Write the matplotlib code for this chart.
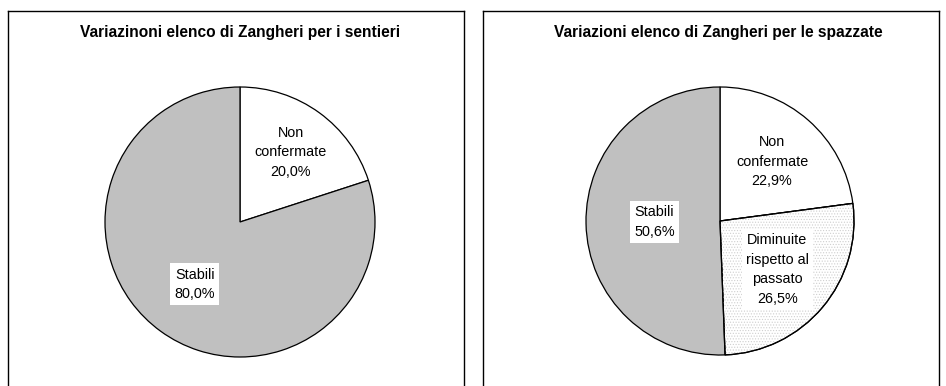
#!/usr/bin/env python3
"""Two pie charts: variations of the Zangheri list for sentieri and spazzate."""

import numpy as np
import matplotlib
matplotlib.use("Agg")
import matplotlib.pyplot as plt
from matplotlib.patches import Wedge

plt.rcParams["font.family"] = ["Liberation Sans", "DejaVu Sans"]
plt.rcParams["hatch.linewidth"] = 0.5

# data
title_sentieri = "Variazinoni elenco di Zangheri per i sentieri"
labels_sentieri = ["Non\nconfermate", "Stabili"]
values_sentieri = [20.0, 80.0]

title_spazzate = "Variazioni elenco di Zangheri per le spazzate"
labels_spazzate = ["Non\nconfermate", "Diminuite\nrispetto al\npassato", "Stabili"]
values_spazzate = [22.9, 26.5, 50.6]

W, H = 946, 386
DPI = 100


def fig_box(x0, y0, x1, y1):
    """Pixel box (top-left origin) -> figure fraction rect."""
    return [x0 / W, 1 - y1 / H, (x1 - x0) / W, (y1 - y0) / H]


def draw_pie(fig, cx, cy, r, values, labels, colors, hatched, label_r):
    pad = 1.04
    ax = fig.add_axes(fig_box(cx - r * pad, cy - r * pad, cx + r * pad, cy + r * pad))
    wedges, _ = ax.pie(
        values,
        colors=colors,
        startangle=90,
        counterclock=False,
        wedgeprops=dict(edgecolor="black", linewidth=0.9),
    )
    for w, h in zip(wedges, hatched):
        if h:
            ax.add_patch(Wedge(w.center, w.r, w.theta1, w.theta2, fill=False,
                               hatch="......", edgecolor="#cfcfcf", linewidth=0))
            # redraw outline on top of the hatch
            ax.add_patch(Wedge(w.center, w.r, w.theta1, w.theta2, fill=False,
                               edgecolor="black", linewidth=0.9))
    for w, lab, v, lr, c, h in zip(wedges, labels, values, label_r, colors, hatched):
        mid = np.deg2rad((w.theta1 + w.theta2) / 2)
        txt = f"{lab}\n{v:.1f}%".replace(".", ",")
        box = None
        if c != "white" or h:
            box = dict(boxstyle="square,pad=0.3", facecolor="white", edgecolor="none")
        ax.text(lr * np.cos(mid), lr * np.sin(mid), txt, ha="center", va="center",
                fontsize=10.4, linespacing=1.5, bbox=box)
    ax.set_xlim(-pad, pad)
    ax.set_ylim(-pad, pad)
    ax.set_aspect("equal")
    ax.axis("off")


fig = plt.figure(figsize=(W / DPI, H / DPI), dpi=DPI)

# panel frames
for x0, x1 in [(8, 464), (483, 939)]:
    frame = fig.add_axes(fig_box(x0, 11, x1, H + 10))
    frame.set_xticks([])
    frame.set_yticks([])
    for s in frame.spines.values():
        s.set_linewidth(1.0)
        s.set_color("black")

fig.text(240 / W, 1 - 33 / H, title_sentieri, ha="center", va="center",
         fontsize=11.2, fontweight="bold")
fig.text(718 / W, 1 - 33 / H, title_spazzate, ha="center", va="center",
         fontsize=11.2, fontweight="bold")

draw_pie(fig, 240, 222, 135, values_sentieri, labels_sentieri,
         ["white", "#c0c0c0"], [False, False], [0.64, 0.57])
draw_pie(fig, 720, 221, 134, values_spazzate, labels_spazzate,
         ["white", "white", "#c0c0c0"], [False, True, False], [0.59, 0.56, 0.49])

fig.savefig("out.png", dpi=DPI)
